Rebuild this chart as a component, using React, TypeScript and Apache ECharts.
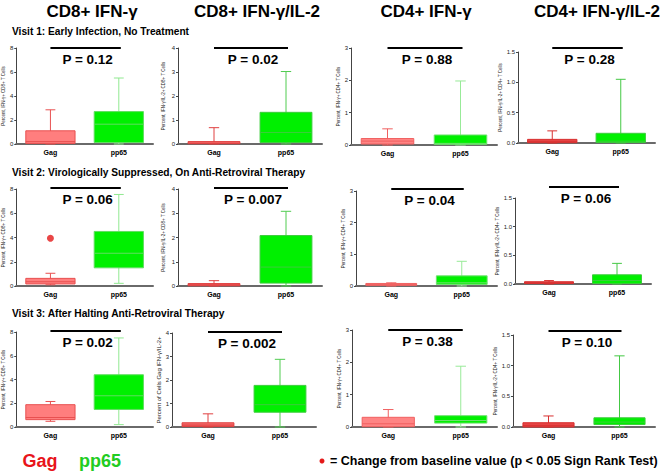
import React, { useEffect, useRef } from 'react';
import * as echarts from 'echarts';

const GROUPS = ['Gag', 'pp65'];
const COLUMN_TITLES = ['CD8+ IFN-γ', 'CD8+ IFN-γ/IL-2', 'CD4+ IFN-γ', 'CD4+ IFN-γ/IL-2'];
const VISIT_LABELS = [
  'Visit 1: Early Infection, No Treatment',
  'Visit 2: Virologically Suppressed, On Anti-Retroviral Therapy',
  'Visit 3: After Halting Anti-Retroviral Therapy',
];
const Y_MAX = [8, 4, 3, 1.5];
const Y_STEP = [2, 1, 1, 0.5];
const P_VALUES = [
  ['P = 0.12', 'P = 0.02', 'P = 0.88', 'P = 0.28'],
  ['P = 0.06', 'P = 0.007', 'P = 0.04', 'P = 0.06'],
  ['P = 0.02', 'P = 0.002', 'P = 0.38', 'P = 0.10'],
];
const Y_NAMES = [
  ['Percent, IFN-γ+ CD8+ T Cells', 'Percent, IFN-γ/IL-2+ CD8+ T Cells', 'Percent, IFN-γ+ CD4+ T Cells', 'Percent, IFN-γ/IL-2+ CD4+ T Cells'],
  ['Percent, IFN-γ+ CD8+ T Cells', 'Percent, IFN-γ/IL-2+ CD8+ T Cells', 'Percent, IFN-γ+ CD4+ T Cells', 'Percent, IFN-γ/IL-2+ CD4+ T Cells'],
  ['Percent, IFN-γ+ CD8+ T Cells', 'Percent of Cells Gag IFN-γ/IL-2+', 'Percent, IFN-γ+ CD4+ T Cells', 'Percent, IFN-γ/IL-2+ CD4+ T Cells'],
];

// five-number summaries [min, Q1, median, Q3, max], one per column
const visit1Gag = [[0, 0.05, 0.2, 1.1, 2.85], [0, 0.01, 0.03, 0.1, 0.68], [0, 0.03, 0.12, 0.2, 0.5], [0, 0.005, 0.02, 0.06, 0.2]];
const visit1Pp65 = [[0, 0.12, 1.65, 2.7, 5.5], [0, 0.06, 0.48, 1.32, 3.02], [0, 0.02, 0.05, 0.31, 1.98], [0, 0.01, 0.03, 0.16, 1.05]];
const visit2Gag = [[0.1, 0.17, 0.35, 0.63, 1.05], [0, 0.01, 0.05, 0.1, 0.22], [0, 0.02, 0.05, 0.08, 0.1], [0, 0.01, 0.02, 0.04, 0.06]];
const visit2Pp65 = [[0.22, 1.5, 2.7, 4.5, 7.55], [0, 0.12, 0.78, 2.08, 3.08], [0, 0.05, 0.1, 0.32, 0.78], [0, 0.01, 0.06, 0.16, 0.36]];
const visit3Gag = [[0.48, 0.62, 0.8, 1.88, 2.15], [0, 0.02, 0.08, 0.18, 0.56], [0, 0.01, 0.1, 0.3, 0.54], [0, 0, 0.02, 0.07, 0.18]];
const visit3Pp65 = [[0.2, 1.48, 2.63, 4.4, 7.5], [0, 0.63, 0.95, 1.77, 2.88], [0, 0.12, 0.2, 0.35, 1.88], [0, 0.04, 0.08, 0.15, 1.16]];

// change from baseline marker (visit 2, CD8+ IFN-γ, Gag)
const baselineVisit = 1;
const baselineColumn = 0;
const baselineGroup = 'Gag';
const baselineValue = 3.94;

const GAG_STATS = [visit1Gag, visit2Gag, visit3Gag];
const PP65_STATS = [visit1Pp65, visit2Pp65, visit3Pp65];

// layout: [left, top, width, height] per panel
const GRID_RECTS = [
  [13, 48, 140, 96], [178, 48, 144, 96], [351, 48, 146, 97], [518, 52, 137, 91],
  [13, 189, 140, 97], [178, 189, 144, 97], [356, 191, 141, 95], [515, 198, 136, 86],
  [13, 332, 140, 95], [172, 333, 144, 94], [352, 330, 145, 97], [513, 335, 142, 92],
];
const BAR_LIFT = [0, 0, 0, 4, 1, 1, 2, 11, 1, 1, 0, 4];
const NAME_GAP = [8, 12, 8, 13];
const TITLE_X = [92, 257, 426, 597];
const VISIT_Y = [31, 172, 313];

const GAG_FILL = ['#ff7e7e', '#f46868', '#ff8484', '#e64444'];
const GAG_STROKE = ['#e85050', '#e04040', '#f06060', '#d83030'];
const PP_FILL = '#00f000';
const PP_STROKE = ['#60dd60', '#3ccc3c', '#70e070', '#3ccc3c'];
const PP_WHISKER = ['#90e890', '#50cc50', '#98ea98', '#44c844'];
const FONT = '"Liberation Sans", Arial, sans-serif';

export default function App() {
  const ref = useRef<HTMLDivElement>(null);
  useEffect(() => {
    if (!ref.current) return;
    const chart = echarts.init(ref.current, undefined, { renderer: 'svg' });
    const grid: any[] = [];
    const xAxis: any[] = [];
    const yAxis: any[] = [];
    const series: any[] = [];
    for (let r = 0; r < 3; r++) {
      for (let c = 0; c < 4; c++) {
        const i = r * 4 + c;
        const [l, t, w, h] = GRID_RECTS[i];
        grid.push({ left: l, top: t, width: w, height: h });
        xAxis.push({
          type: 'category', gridIndex: i, data: GROUPS,
          axisLine: { lineStyle: { color: '#6a6a6a', width: 2 } },
          axisTick: { show: false },
          axisLabel: { fontSize: 7, color: '#000', fontFamily: FONT, fontWeight: 'bold', margin: 5 },
        });
        const isNameBig = r === 2 && c === 1;
        yAxis.push({
          type: 'value', gridIndex: i, min: 0, max: Y_MAX[c], interval: Y_STEP[c],
          name: Y_NAMES[r][c], nameLocation: 'middle', nameGap: isNameBig ? 7 : NAME_GAP[c],
          nameTextStyle: { fontSize: isNameBig ? 6 : 4.5, color: '#222', fontFamily: FONT },
          axisLine: { show: true, lineStyle: { color: '#444', width: 1 } },
          axisTick: { show: true, length: 2, lineStyle: { color: '#444' } },
          splitLine: { show: false },
          axisLabel: {
            fontSize: 6, color: '#222', fontFamily: FONT, margin: 3,
            formatter: (v: number) => (c === 3 ? v.toFixed(1) : String(v)),
          },
        });
        const gag = GAG_STATS[r][c];
        const pp = PP65_STATS[r][c];
        const ymax = Y_MAX[c];
        const lift = BAR_LIFT[i];
        const pText = P_VALUES[r][c];
        series.push({
          type: 'custom', xAxisIndex: i, yAxisIndex: i, clip: false,
          encode: { x: 0, y: [1, 2, 3, 4, 5] },
          data: [[0, ...gag], [1, ...pp]],
          renderItem: (params: any, api: any) => {
            const k = api.value(0);
            const vals = [1, 2, 3, 4, 5].map((d) => api.value(d));
            const pts = vals.map((v) => api.coord([k, v]));
            const cx = pts[0][0];
            const bw = api.size([1, 0])[0] * 0.72;
            const cap = bw * 0.2;
            const isGag = k === 0;
            const fill = isGag ? GAG_FILL[c] : PP_FILL;
            const stroke = isGag ? GAG_STROKE[c] : PP_STROKE[c];
            const wh = isGag ? GAG_STROKE[c] : PP_WHISKER[c];
            const children: any[] = [
              { type: 'line', shape: { x1: cx, y1: pts[0][1], x2: cx, y2: pts[4][1] }, style: { stroke: wh, lineWidth: 1 } },
              { type: 'line', shape: { x1: cx - cap / 2, y1: pts[4][1], x2: cx + cap / 2, y2: pts[4][1] }, style: { stroke: wh, lineWidth: 1 } },
              { type: 'line', shape: { x1: cx - cap / 2, y1: pts[0][1], x2: cx + cap / 2, y2: pts[0][1] }, style: { stroke: wh, lineWidth: 1 } },
              { type: 'rect', shape: { x: cx - bw / 2, y: pts[3][1], width: bw, height: Math.max(pts[1][1] - pts[3][1], 1) }, style: { fill, stroke, lineWidth: 1 } },
              { type: 'line', shape: { x1: cx - bw / 2, y1: pts[2][1], x2: cx + bw / 2, y2: pts[2][1] }, style: { stroke, lineWidth: 1 } },
            ];
            if (k === 1) {
              const a = api.coord([0, ymax]);
              const b = api.coord([1, ymax]);
              const by = a[1] - lift;
              children.push({ type: 'line', shape: { x1: a[0], y1: by, x2: b[0] + 2, y2: by }, style: { stroke: '#000', lineWidth: 2 } });
              children.push({
                type: 'text', x: (a[0] + b[0]) / 2 + 3, y: by + 11,
                style: { text: pText, fill: '#000', font: `bold 13.5px ${FONT}`, textAlign: 'center', textVerticalAlign: 'middle' },
              });
            }
            return { type: 'group', children };
          },
        });
      }
    }
    const bi = baselineVisit * 4 + baselineColumn;
    series.push({
      type: 'scatter', xAxisIndex: bi, yAxisIndex: bi, symbolSize: 7, z: 10,
      itemStyle: { color: '#e41818' },
      data: [[baselineGroup, baselineValue]],
    });

    const graphic: any[] = [];
    COLUMN_TITLES.forEach((t, c) => {
      graphic.push({ type: 'text', x: TITLE_X[c], y: 11, style: { text: t, fill: '#000', font: `bold 17px ${FONT}`, textAlign: 'center', textVerticalAlign: 'middle' } });
    });
    VISIT_LABELS.forEach((t, r) => {
      graphic.push({ type: 'text', x: 12, y: VISIT_Y[r], style: { text: t, fill: '#000', font: `bold 10.2px ${FONT}`, textAlign: 'left', textVerticalAlign: 'middle' } });
    });
    graphic.push({ type: 'text', x: 40, y: 461, style: { text: 'Gag', fill: '#e8141a', font: `bold 18px ${FONT}`, textAlign: 'center', textVerticalAlign: 'middle' } });
    graphic.push({ type: 'text', x: 100, y: 461, style: { text: 'pp65', fill: '#22cc22', font: `bold 18px ${FONT}`, textAlign: 'center', textVerticalAlign: 'middle' } });
    graphic.push({ type: 'circle', shape: { cx: 322, cy: 461, r: 2.5 }, style: { fill: '#e41818' } });
    graphic.push({ type: 'text', x: 330, y: 461, style: { text: '= Change from baseline value (p < 0.05 Sign Rank Test)', fill: '#000', font: `bold 12.5px ${FONT}`, textAlign: 'left', textVerticalAlign: 'middle' } });

    chart.setOption({
      animation: false,
      backgroundColor: '#fff',
      grid, xAxis, yAxis, series, graphic,
    });
    return () => chart.dispose();
  }, []);
  return <div ref={ref} style={{ width: 661, height: 473, position: 'absolute', left: 0, top: 0 }} />;
}
